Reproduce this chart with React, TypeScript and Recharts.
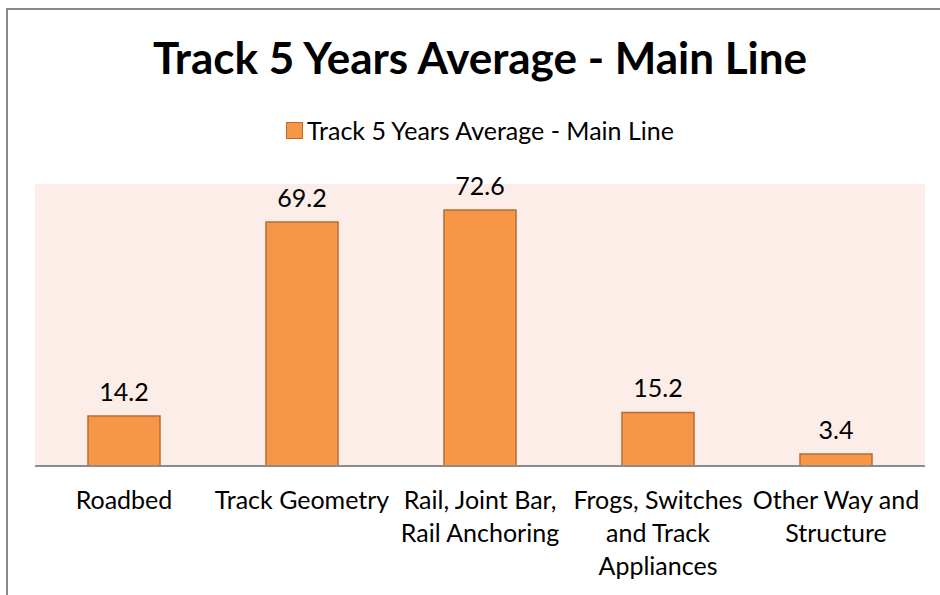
import React from 'react';
import { BarChart, Bar, XAxis, YAxis, CartesianGrid, LabelList, Legend } from 'recharts';

const categories: string[][] = [
  ['Roadbed'],
  ['Track Geometry'],
  ['Rail, Joint Bar,', 'Rail Anchoring'],
  ['Frogs, Switches', 'and Track', 'Appliances'],
  ['Other Way and', 'Structure'],
];
const values: number[] = [14.2, 69.2, 72.6, 15.2, 3.4];
const seriesName = 'Track 5 Years Average - Main Line';
const titleText = 'Track 5 Years Average - Main Line';

const data = categories.map((c, i) => ({ name: c.join('\n'), value: values[i] }));

const FONT = 'Lato, "Open Sans", sans-serif';
const FS = 25;

const CategoryTick = (props: any) => {
  const { x, y, payload } = props;
  const lines = String(payload.value).split('\n');
  return (
    <g transform={`translate(${x},${y})`}>
      {lines.map((l: string, i: number) => (
        <text key={i} x={0} y={35 + i * 33} textAnchor="middle" fontSize={FS} fill="#000" fontFamily={FONT}>
          {l}
        </text>
      ))}
    </g>
  );
};

const LegendContent = () => (
  <div style={{ display: 'flex', alignItems: 'center', justifyContent: 'center', fontFamily: FONT, fontSize: FS, color: '#000', lineHeight: '30px' }}>
    <span style={{ display: 'inline-block', width: 15, height: 15, background: '#F79646', border: '1px solid #B66D31', marginRight: 4 }} />
    <span>{seriesName}</span>
  </div>
);

export default function App() {
  return (
    <div style={{ position: 'absolute', left: 0, top: 0, width: 940, height: 595, background: '#fff', overflow: 'hidden' }}>
      <div style={{ position: 'absolute', left: 6, top: 8, width: 940, height: 600, borderLeft: '2px solid #888', borderTop: '2px solid #888' }} />
      <div style={{ position: 'absolute', left: 0, top: 31, width: 960, textAlign: 'center', fontFamily: FONT, fontWeight: 700, fontSize: 44, color: '#000' }}>
        {titleText}
      </div>
      <div style={{ position: 'absolute', left: 0, top: 0 }}>
        <BarChart width={940} height={595} data={data} margin={{ top: 154, right: 15, bottom: 99, left: 35 }}>
          <CartesianGrid horizontal={false} vertical={false} fill="#FCEDE8" stroke="none" />
          <XAxis dataKey="name" height={30} tick={<CategoryTick />} tickLine={false} axisLine={{ stroke: '#8C8C8C', strokeWidth: 2 }} interval={0} />
          <YAxis hide domain={[0, 80]} />
          <Legend
            verticalAlign="top"
            content={<LegendContent />}
            wrapperStyle={{ position: 'absolute', top: 115, left: 0, width: 960 }}
          />
          <Bar dataKey="value" name={seriesName} fill="#F79646" stroke="#B66D31" strokeWidth={1.5} barSize={72} isAnimationActive={false}>
            <LabelList dataKey="value" position="top" offset={15} fontSize={FS} fill="#000" fontFamily={FONT} formatter={(v: any) => Number(v).toFixed(1)} />
          </Bar>
        </BarChart>
      </div>
    </div>
  );
}
